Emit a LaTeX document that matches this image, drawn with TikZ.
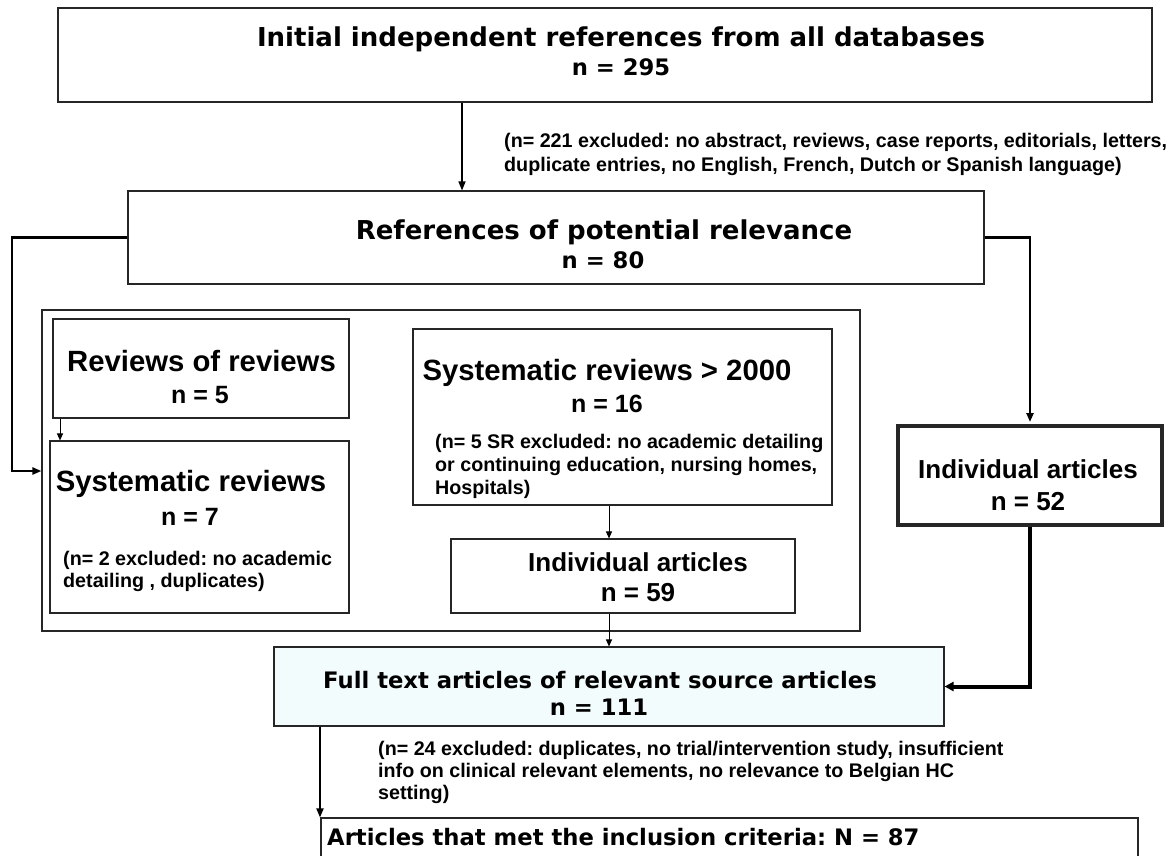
\documentclass[tikz,border=0pt]{standalone}
\usepackage{fontspec}
\usetikzlibrary{arrows.meta}
\newfontfamily\verd{DejaVu Sans}
\newfontfamily\arl{Liberation Sans}
\definecolor{ftfill}{HTML}{F3FCFD}
\frenchspacing
\begin{document}
\begin{tikzpicture}[x=1pt,y=-1pt,
 box/.style={draw=black!85,line width=1.1pt,inner sep=0pt,rectangle},
 vtitle/.style={font=\verd\bfseries\fontsize{26}{30}\selectfont,inner sep=0pt,anchor=base},
 vnum/.style={font=\verd\bfseries\fontsize{22.7}{27}\selectfont,inner sep=0pt,anchor=base},
 atitle/.style={font=\arl\bfseries\fontsize{29.3}{33}\selectfont,inner sep=0pt,anchor=base},
 anum/.style={font=\arl\bfseries\fontsize{25}{29}\selectfont,inner sep=0pt,anchor=base},
 aind/.style={font=\arl\bfseries\fontsize{26}{30}\selectfont,inner sep=0pt,anchor=base},
 extext/.style={font=\arl\bfseries\fontsize{19.7}{23}\selectfont,inner sep=0pt,anchor=base west},
 arr/.style={-{Triangle[length=9pt,width=7pt]},line width=1.4pt},
 sarr/.style={-{Triangle[length=7pt,width=6pt]},line width=1pt},
]
\useasboundingbox (0,0) rectangle (1171,855);
% boxes
\node[box,minimum width=1094pt,minimum height=94pt] (b1) at (605,55) {};
\node[box,minimum width=856pt,minimum height=93pt] (b2) at (556,237.5) {};
\node[box,minimum width=818pt,minimum height=321pt] (cont) at (451,470.5) {};
\node[box,minimum width=296pt,minimum height=99pt] (rr) at (201,368.5) {};
\node[box,minimum width=299pt,minimum height=172pt] (sr) at (199.5,527) {};
\node[box,minimum width=419pt,minimum height=176pt] (s2k) at (622.5,417) {};
\node[box,minimum width=344pt,minimum height=74pt] (ia59) at (623,576) {};
\node[box,line width=4pt,minimum width=264pt,minimum height=99pt] (ia52) at (1030,475.5) {};
\node[box,fill=ftfill,minimum width=670pt,minimum height=79pt] (ft) at (609,686.5) {};
\node[box,minimum width=817pt,minimum height=62pt] (fin) at (729.5,849) {};
% texts
\node[vtitle] (t1) at (621,46.5) {Initial independent references from all databases};
\node[vnum] (t1n) at (621,75) {n = 295};
\node[extext] (e1a) at (504,147) {(n= 221 excluded: no abstract, reviews, case reports, editorials, letters,};
\node[extext] (e1b) at (504,171) {duplicate entries, no English, French, Dutch or Spanish language)};
\node[vtitle] (t2) at (604,239) {References of potential relevance};
\node[vnum] (t2n) at (603,268) {n = 80};
\node[atitle] (t3) at (201.5,371) {Reviews of reviews};
\node[anum] (t3n) at (200,403) {n = 5};
\node[atitle] (t4) at (191,491) {Systematic reviews};
\node[anum] (t4n) at (190,525) {n = 7};
\node[extext] (e4a) at (63,565) {(n= 2 excluded: no academic};
\node[extext] (e4b) at (63,587) {detailing , duplicates)};
\node[atitle] (t5) at (607,380) {Systematic reviews > 2000};
\node[anum] (t5n) at (607,412) {n = 16};
\node[extext] (e5a) at (435,448) {(n= 5 SR excluded: no academic detailing};
\node[extext] (e5b) at (435,471) {or continuing education, nursing homes,};
\node[extext] (e5c) at (435,494) {Hospitals)};
\node[aind] (t6) at (638,571) {Individual articles};
\node[aind] (t6n) at (638,601) {n = 59};
\node[aind] (t7) at (1028,478) {Individual articles};
\node[aind] (t7n) at (1028,510) {n = 52};
\node[vnum] (t8) at (600,688) {Full text articles of relevant source articles};
\node[vnum] (t8n) at (599,715) {n = 111};
\node[extext] (e8a) at (378,755) {(n= 24 excluded: duplicates, no trial/intervention study, insufficient};
\node[extext] (e8b) at (378,777) {info on clinical relevant elements, no relevance to Belgian HC};
\node[extext] (e8c) at (378,799) {setting)};
\node[vnum,anchor=base west] (t9) at (327,845) {Articles that met the inclusion criteria: N = 87};
% connectors
\coordinate (c1) at (462,0);
\draw[arr] (b1.south -| c1) -- (b2.north -| c1);
\coordinate (lx) at (12,471);
\draw[arr,line width=2.2pt] (b2.west) -| (lx) -- (cont.west |- lx);
\draw[arr,line width=2.2pt,shorten >=2pt] (b2.east) -| (ia52.north);
\draw[line width=4pt,-{Triangle[length=9pt,width=9pt]}] (ia52.south) |- (ft.east);
\coordinate (sx) at (60,0);
\draw[sarr] (rr.south -| sx) -- (sr.north -| sx);
\coordinate (mx) at (609,0);
\draw[sarr] (s2k.south -| mx) -- (ia59.north -| mx);
\draw[sarr] (ia59.south -| mx) -- (ft.north -| mx);
\coordinate (fx) at (320,0);
\draw[arr,line width=1.8pt] (ft.south -| fx) -- (fin.north -| fx);
\end{tikzpicture}
\end{document}
